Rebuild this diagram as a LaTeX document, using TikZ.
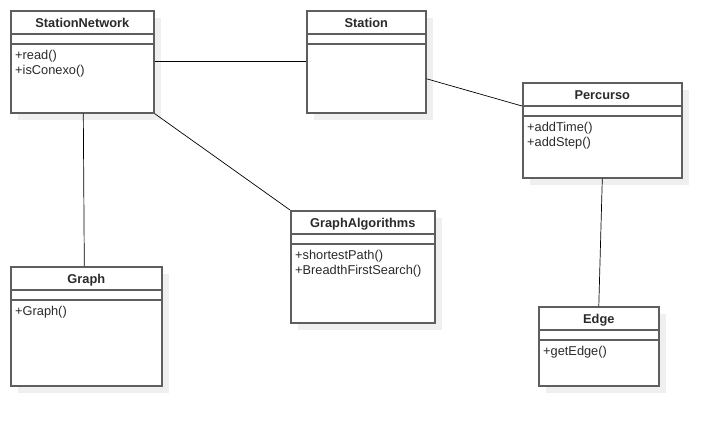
\documentclass[tikz,border=0pt]{standalone}
\usepackage{fontspec}
\setmainfont{Liberation Sans}
\usetikzlibrary{positioning,shadows}

\definecolor{boxgray}{HTML}{5E5E5E}
\definecolor{shadowgray}{HTML}{EFEFEF}
\definecolor{textgray}{HTML}{2A2A2A}

\tikzset{
  classbox/.style={draw=boxgray, line width=1.6pt, fill=white, inner sep=0,
    anchor=north west,
    drop shadow={shadow xshift=7pt, shadow yshift=-7pt, opacity=1, fill=shadowgray}},
  classtitle/.style={font=\fontsize{12.8}{15}\selectfont\bfseries, text=textgray,
    inner sep=0, text height=9.3pt, text depth=0pt},
  classmethods/.style={font=\fontsize{12.8}{15}\selectfont, text=textgray,
    inner sep=0, anchor=north west, align=left},
  classline/.style={draw=boxgray, line width=1.6pt},
  assoc/.style={draw=black, line width=0.7pt}
}

% #1 nazwa, #2 x, #3 y, #4 szerokosc, #5 wysokosc, #6 tytul, #7 metody
\newcommand{\umlclass}[7]{%
  \node[classbox, minimum width=#4pt, minimum height=#5pt] (#1) at (#2,#3) {};
  \node[classtitle] (#1-title) at ([yshift=-12.5pt]#1.north) {#6};
  \draw[classline] ([yshift=-24pt]#1.north west) -- ([yshift=-24pt]#1.north east);
  \draw[classline] ([yshift=-34pt]#1.north west) -- ([yshift=-34pt]#1.north east);
  \node[classmethods] (#1-methods) at ([xshift=5pt,yshift=-40.5pt]#1.north west) {#7};
}

\begin{document}
\begin{tikzpicture}[x=1pt,y=-1pt]
\useasboundingbox (0,0) rectangle (721,426);

\umlclass{sn}{10}{10}{143}{102}{StationNetwork}{+read()\\+isConexo()}
\umlclass{st}{306}{10}{119}{102}{Station}{}
\umlclass{pc}{522}{82}{159}{95}{Percurso}{+addTime()\\+addStep()}
\umlclass{ga}{290}{210}{144}{112}{GraphAlgorithms}{+shortestPath()\\+BreadthFirstSearch()}
\umlclass{gr}{10}{266}{151}{119}{Graph}{+Graph()}
\umlclass{ed}{538}{306}{120}{79}{Edge}{+getEdge()}

\draw[assoc] (sn.east) -- (st.west);
\draw[assoc] (sn.south east) -- (ga.north west);
\draw[assoc] ([xshift=1pt]sn.south) -- ([xshift=-2pt]gr.north);
\draw[assoc] ([yshift=-17pt]st.east) -- ([yshift=-24pt]pc.north west);
\draw[assoc] (pc.south) -- (ed.north);
% klasy, potem powiazania miedzy nimi

\end{tikzpicture}
\end{document}
